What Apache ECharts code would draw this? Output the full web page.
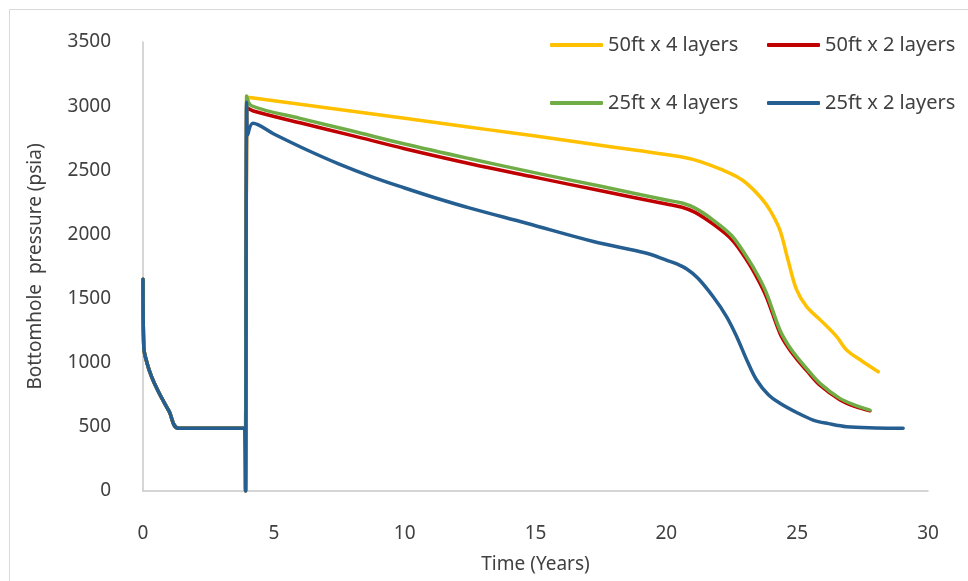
<!DOCTYPE html>
<html>
<head>
<meta charset="utf-8">
<script src="https://cdn.jsdelivr.net/npm/echarts@6/dist/echarts.min.js"></script>
<style>
  html, body { margin: 0; padding: 0; background: #fff; }
  #chart { width: 968px; height: 581px; }
</style>
</head>
<body>
<div id="chart"></div>
<script>
// Bottomhole pressure (psia) versus time (years), [time, pressure] pairs.
// The early drawdown and shut-in period is shared by every case.
const earlyPeriod = [
  [0, 1650], [0.03, 1120], [0.15, 1000], [0.33, 890], [0.6, 770],
  [1.0, 620], [1.35, 490], [3.88, 490], [3.92, 0]
];

const ft50x4 = [
  [3.96, 3070], [4.15, 3066], [6, 3015], [8, 2960], [10, 2905], [12.5, 2835],
  [14, 2795], [16, 2738], [18, 2680], [19, 2652], [20.5, 2607], [21.3, 2568],
  [22.2, 2498], [22.7, 2450], [23.07, 2398], [23.6, 2290], [23.96, 2190],
  [24.34, 2034], [24.65, 1800], [24.98, 1567], [25.36, 1437], [25.9, 1330],
  [26.51, 1203], [26.89, 1099], [27.5, 1010], [28.1, 930]
];

const ft50x2 = [
  [3.96, 2990], [4.22, 2962], [6, 2870], [8, 2770], [10, 2668], [12.5, 2551],
  [15, 2445], [17.5, 2340], [20, 2237], [20.6, 2212], [21.1, 2172], [21.79, 2080],
  [22.5, 1960], [23.07, 1800], [23.5, 1650], [23.83, 1510], [24.34, 1230],
  [24.65, 1120], [24.98, 1030], [25.4, 930], [25.87, 825], [26.63, 712],
  [27.2, 660], [27.78, 625]
];

const ft25x4 = [
  [3.96, 3080], [4.15, 3003], [6, 2905], [8, 2806], [10, 2705], [12.5, 2590],
  [15, 2480], [17.5, 2375], [20, 2268], [20.6, 2245], [21.1, 2205], [21.79, 2112],
  [22.5, 1990], [23.07, 1826], [23.5, 1680], [23.83, 1541], [24.34, 1255],
  [24.65, 1140], [24.98, 1047], [25.4, 945], [25.87, 839], [26.63, 722],
  [27.2, 670], [27.78, 631]
];

const ft25x2 = [
  [3.96, 3030], [4.0, 2775], [4.2, 2866], [5, 2783], [6.25, 2660], [7.5, 2548],
  [8.8, 2445], [10, 2362], [11.25, 2280], [12.5, 2205], [14.66, 2087],
  [17.21, 1945], [19.25, 1853], [20.0, 1800], [20.4, 1770], [20.78, 1730],
  [21.2, 1660], [21.79, 1514], [22.3, 1360], [22.69, 1203], [23.1, 1010],
  [23.45, 865], [23.9, 750], [24.34, 684], [25, 610], [25.61, 553], [26.2, 525],
  [26.89, 501], [28, 492], [29.05, 489]
];

const seriesNames = ['50ft x 4 layers', '50ft x 2 layers', '25ft x 4 layers', '25ft x 2 layers'];
const seriesColors = ['#FFC000', '#C00000', '#70AD47', '#255E91'];
const seriesData = [ft50x4, ft50x2, ft25x4, ft25x2];

const xTicks = { min: 0, max: 30, interval: 5 };
const yTicks = { min: 0, max: 3500, interval: 500 };

const FONT = '"Noto Sans", sans-serif';
const TEXT = '#404040';

const chart = echarts.init(document.getElementById('chart'), null, { renderer: 'canvas' });

function legendAt(name, left, top) {
  return {
    data: [name],
    left: left,
    top: top,
    padding: 0,
    icon: 'roundRect',
    itemWidth: 53,
    itemHeight: 4,
    itemGap: 0,
    selectedMode: false,
    textStyle: { fontFamily: FONT, fontSize: 20, color: TEXT, padding: [0, 0, 0, 0], lineHeight: 20 }
  };
}

chart.setOption({
  animation: false,
  backgroundColor: '#ffffff',
  graphic: [{
    type: 'rect',
    shape: { x: 9.5, y: 9.5, width: 980, height: 600 },
    style: { fill: 'none', stroke: '#D9D9D9', lineWidth: 1 },
    silent: true
  }],
  grid: { left: 143, right: 40, top: 42, bottom: 90, containLabel: false },
  legend: [
    legendAt(seriesNames[0], 550, 35),
    legendAt(seriesNames[1], 767, 35),
    legendAt(seriesNames[2], 550, 93),
    legendAt(seriesNames[3], 767, 93)
  ],
  xAxis: {
    type: 'value',
    min: xTicks.min, max: xTicks.max, interval: xTicks.interval,
    name: 'Time (Years)',
    nameLocation: 'middle',
    nameGap: 64,
    nameTextStyle: { fontFamily: FONT, fontSize: 19, color: TEXT },
    axisLine: { show: true, onZero: false, lineStyle: { color: '#C8C8C8', width: 1.5 } },
    axisTick: { show: false },
    splitLine: { show: false },
    axisLabel: { fontFamily: FONT, fontSize: 19, color: TEXT, margin: 33 }
  },
  yAxis: {
    type: 'value',
    min: yTicks.min, max: yTicks.max, interval: yTicks.interval,
    name: 'Bottomhole  pressure (psia)',
    nameLocation: 'middle',
    nameRotate: 90,
    nameGap: 98,
    nameTextStyle: { fontFamily: FONT, fontSize: 19, color: TEXT },
    axisLine: { show: true, lineStyle: { color: '#C8C8C8', width: 1.5 } },
    axisTick: { show: false },
    splitLine: { show: false },
    axisLabel: { fontFamily: FONT, fontSize: 19, color: TEXT, margin: 32, formatter: (v) => String(v) }
  },
  series: seriesNames.map((name, i) => ({
    name: name,
    type: 'line',
    data: earlyPeriod.concat(seriesData[i]),
    showSymbol: false,
    symbol: 'none',
    smooth: 0.35,
    color: seriesColors[i],
    lineStyle: { color: seriesColors[i], width: 3.5, cap: 'round', join: 'round' },
    z: 2 + i
  }))
});
</script>
</body>
</html>
